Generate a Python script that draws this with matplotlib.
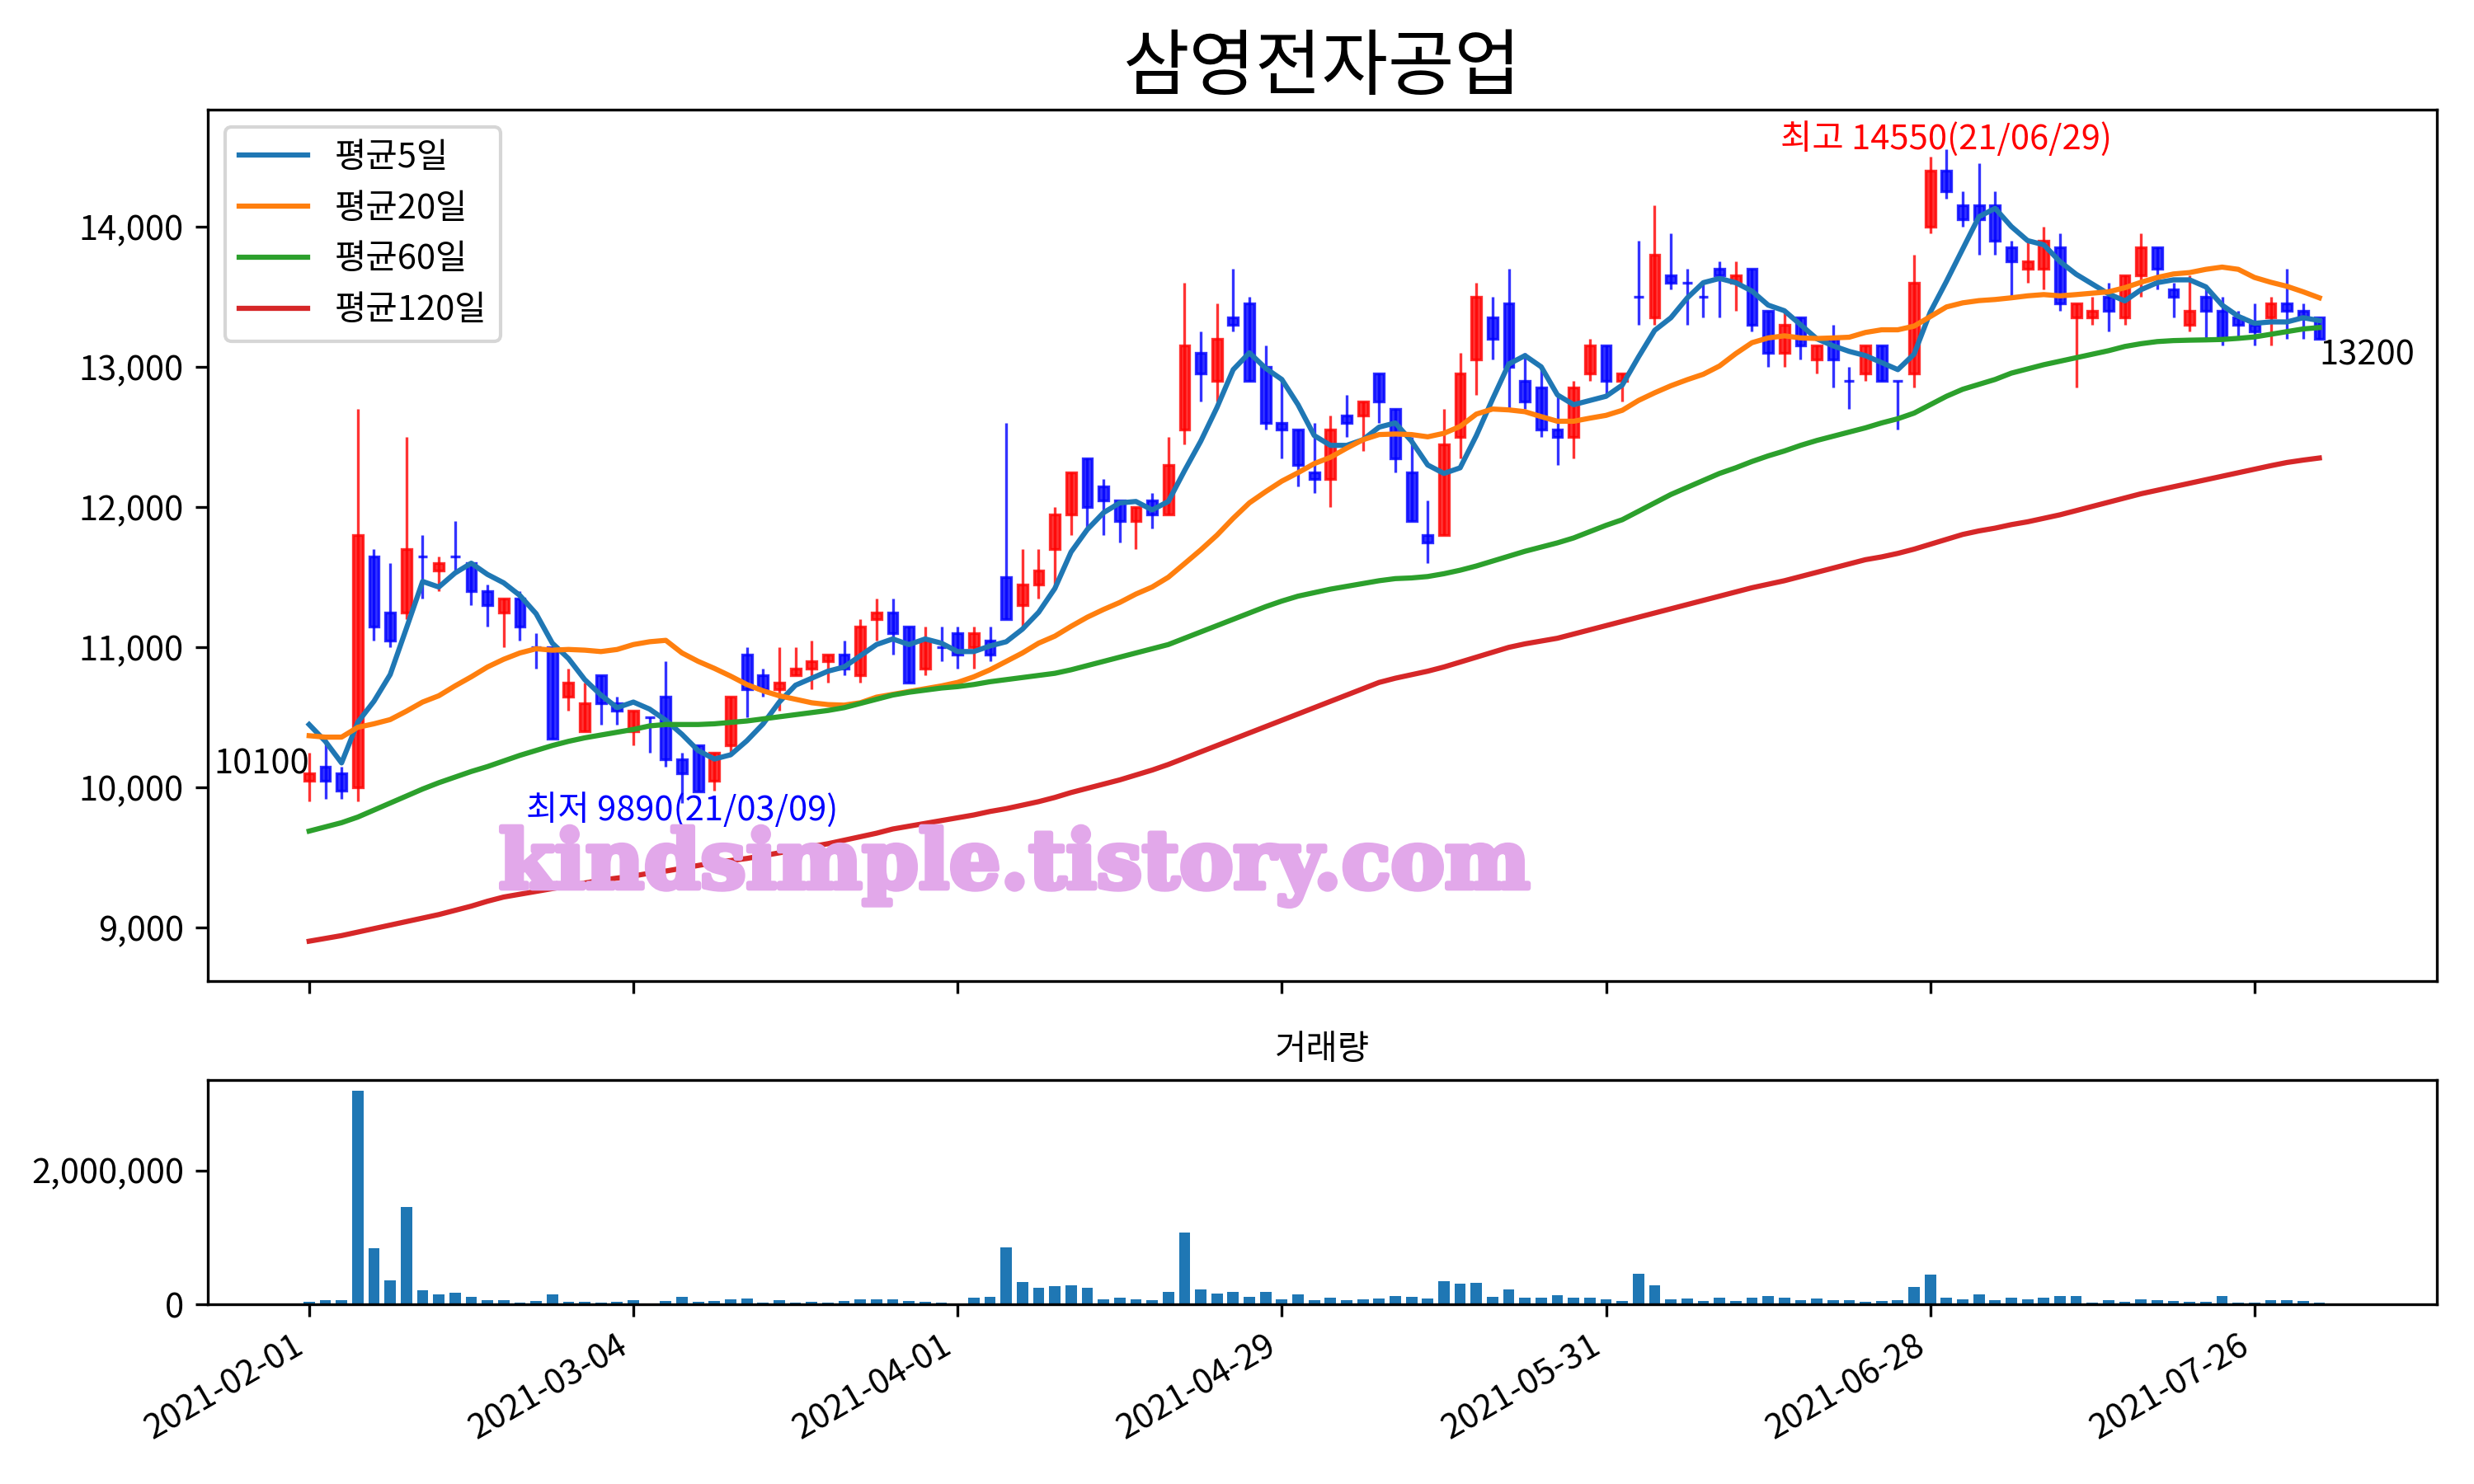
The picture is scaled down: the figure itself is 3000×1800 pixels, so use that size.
import numpy as np
import pandas as pd
import matplotlib
matplotlib.use('Agg')
import matplotlib.pyplot as plt
import matplotlib.patheffects as pe
from matplotlib.ticker import FuncFormatter

plt.rcParams['font.family'] = ['Noto Sans CJK KR', 'DejaVu Sans']

title = '삼영전자공업'
tick_dates = ['2021-02-01', '2021-03-04', '2021-04-01', '2021-04-29',
              '2021-05-31', '2021-06-28', '2021-07-26']
high_date = '21/06/29'
low_date = '21/03/09'

# last closes before the window (only used for the 5-day average)
pre_close = [10650, 10750, 10350, 10400]

open_ = [10050, 10150, 10100, 10000, 11650, 11250, 11250, 11650, 11550, 11650,
         11600, 11400, 11250, 11350, 11000, 11000, 10650, 10400, 10800, 10600,
         10400, 10500, 10650, 10200, 10300, 10050, 10300, 10950, 10800, 10700,
         10800, 10850, 10900, 10950, 10800, 11200, 11250, 11150, 10850, 11000,
         11100, 11000, 11050, 11500, 11300, 11450, 11700, 11950, 12350, 12150,
         12050, 11900, 12050, 11950, 12550, 13100, 12900, 13350, 13450, 13000,
         12600, 12550, 12250, 12200, 12650, 12650, 12950, 12700, 12250, 11800,
         11800, 12500, 13050, 13350, 13450, 12900, 12850, 12550, 12500, 12950,
         13150, 12900, 13500, 13350, 13650, 13600, 13500, 13700, 13600, 13700,
         13400, 13100, 13350, 13050, 13200, 12900, 12950, 13150, 12900, 12950,
         14000, 14400, 14150, 14150, 14150, 13850, 13700, 13700, 13850, 13350,
         13350, 13500, 13350, 13650, 13850, 13550, 13300, 13500, 13400, 13350,
         13300, 13350, 13450, 13400, 13350]
high = [10250, 10350, 10150, 12700, 11700, 11600, 12500, 11800, 11650, 11900,
        11600, 11450, 11350, 11400, 11100, 11000, 10850, 10750, 10800, 10650,
        10550, 10500, 10900, 10250, 10300, 10250, 10650, 11000, 10850, 11000,
        11000, 11050, 10950, 11050, 11200, 11350, 11350, 11150, 11150, 11150,
        11150, 11150, 11150, 12600, 11700, 11700, 12000, 12250, 12350, 12200,
        12050, 12000, 12100, 12500, 13600, 13250, 13450, 13700, 13500, 13150,
        12900, 12550, 12600, 12650, 12800, 12750, 12950, 12700, 12500, 12050,
        12700, 13100, 13600, 13500, 13700, 13100, 13000, 12800, 12900, 13200,
        13150, 12950, 13900, 14150, 13950, 13700, 13600, 13750, 13750, 13700,
        13400, 13400, 13350, 13150, 13300, 13000, 13150, 13150, 12900, 13800,
        14500, 14550, 14250, 14450, 14250, 13900, 13900, 14000, 13950, 13450,
        13500, 13600, 13650, 13950, 13850, 13600, 13650, 13550, 13500, 13400,
        13450, 13500, 13700, 13450, 13350]
low = [9900, 9920, 9920, 9900, 11050, 11000, 11200, 11350, 11400, 11550,
       11300, 11150, 11000, 11050, 10850, 10350, 10550, 10400, 10450, 10450,
       10300, 10250, 10150, 9890, 9970, 9980, 10250, 10500, 10650, 10550,
       10800, 10700, 10750, 10800, 10750, 11050, 10950, 10750, 10800, 10900,
       10850, 10850, 10900, 11200, 11150, 11350, 11450, 11800, 11850, 11800,
       11750, 11700, 11850, 11950, 12450, 12750, 12750, 13250, 12900, 12550,
       12350, 12150, 12100, 12000, 12500, 12400, 12600, 12250, 11900, 11600,
       11800, 12350, 12800, 13050, 12700, 12700, 12500, 12300, 12350, 12900,
       12800, 12750, 13300, 13300, 13550, 13300, 13350, 13350, 13400, 13250,
       13000, 13000, 13050, 12950, 12850, 12700, 12900, 12900, 12550, 12850,
       13950, 14200, 14000, 13800, 13800, 13500, 13600, 13550, 13400, 12850,
       13300, 13250, 13300, 13500, 13550, 13350, 13250, 13200, 13150, 13200,
       13150, 13150, 13200, 13200, 13200]
close = [10100, 10050, 9980, 11800, 11150, 11050, 11700, 11650, 11600, 11650,
         11400, 11300, 11350, 11150, 11000, 10350, 10750, 10600, 10600, 10550,
         10550, 10500, 10200, 10100, 9970, 10250, 10650, 10700, 10700, 10750,
         10850, 10900, 10950, 10850, 11150, 11250, 11100, 10750, 11050, 11000,
         10950, 11100, 10950, 11200, 11450, 11550, 11950, 12250, 12000, 12050,
         11900, 12000, 11950, 12300, 13150, 12950, 13200, 13300, 12900, 12600,
         12550, 12300, 12200, 12550, 12600, 12750, 12750, 12350, 11900, 11750,
         12450, 12950, 13500, 13200, 13000, 12750, 12550, 12500, 12850, 13150,
         12900, 12950, 13500, 13800, 13600, 13600, 13500, 13650, 13650, 13300,
         13100, 13300, 13150, 13150, 13050, 12900, 13150, 12900, 12900, 13600,
         14400, 14250, 14050, 14050, 13900, 13750, 13750, 13900, 13450, 13450,
         13400, 13400, 13650, 13850, 13700, 13500, 13400, 13400, 13200, 13300,
         13250, 13450, 13400, 13350, 13200]

ma20 = [10370, 10360, 10360, 10430, 10455, 10485, 10545, 10610, 10655, 10725,
        10790, 10860, 10915, 10960, 10990, 10980, 10985, 10980, 10970, 10985,
        11020, 11040, 11050, 10960, 10900, 10850, 10795, 10735, 10690, 10655,
        10630, 10605, 10592, 10588, 10605, 10645, 10665, 10685, 10705, 10725,
        10750, 10790, 10840, 10900, 10960, 11030, 11080, 11150, 11215, 11270,
        11320, 11380, 11430, 11500, 11597, 11695, 11800, 11920, 12030, 12110,
        12185, 12245, 12310, 12355, 12420, 12480, 12517, 12521, 12517, 12501,
        12526, 12575, 12663, 12699, 12693, 12680, 12645, 12612, 12612, 12634,
        12654, 12690, 12760, 12815, 12865, 12908, 12947, 13006, 13094, 13172,
        13206, 13221, 13206, 13202, 13206, 13211, 13245, 13264, 13264, 13290,
        13358, 13427, 13456, 13472, 13480, 13492, 13506, 13515, 13506, 13515,
        13525, 13535, 13564, 13603, 13637, 13662, 13672, 13695, 13711, 13695,
        13637, 13603, 13574, 13535, 13492]
ma60 = [9690, 9720, 9750, 9790, 9840, 9890, 9940, 9990, 10035, 10075,
        10115, 10150, 10190, 10230, 10265, 10300, 10330, 10355, 10375, 10395,
        10415, 10440, 10450, 10450, 10450, 10455, 10465, 10475, 10490, 10505,
        10520, 10535, 10550, 10570, 10600, 10630, 10660, 10680, 10695, 10710,
        10720, 10735, 10755, 10770, 10785, 10800, 10815, 10840, 10870, 10900,
        10930, 10960, 10990, 11020, 11065, 11110, 11155, 11200, 11245, 11290,
        11330, 11365, 11390, 11415, 11435, 11455, 11475, 11490, 11495, 11505,
        11525, 11550, 11580, 11615, 11650, 11685, 11715, 11745, 11780, 11825,
        11870, 11910, 11970, 12030, 12090, 12140, 12190, 12240, 12280, 12325,
        12365, 12400, 12440, 12475, 12505, 12535, 12565, 12600, 12630, 12670,
        12730, 12790, 12840, 12875, 12910, 12955, 12985, 13015, 13040, 13065,
        13090, 13115, 13145, 13165, 13180, 13187, 13190, 13192, 13195, 13203,
        13213, 13232, 13251, 13270, 13280]
ma120 = [8905, 8925, 8945, 8970, 8995, 9020, 9045, 9070, 9095, 9125,
         9155, 9190, 9220, 9240, 9260, 9280, 9300, 9320, 9340, 9355,
         9370, 9390, 9405, 9425, 9445, 9465, 9480, 9495, 9515, 9535,
         9555, 9580, 9600, 9625, 9650, 9675, 9705, 9725, 9745, 9765,
         9785, 9805, 9830, 9850, 9875, 9900, 9930, 9965, 9995, 10025,
         10055, 10090, 10125, 10165, 10210, 10255, 10300, 10345, 10390, 10435,
         10480, 10525, 10570, 10615, 10660, 10705, 10750, 10780, 10805, 10830,
         10860, 10895, 10930, 10965, 11000, 11025, 11045, 11065, 11095, 11125,
         11155, 11185, 11215, 11245, 11275, 11305, 11335, 11365, 11395, 11425,
         11450, 11475, 11505, 11535, 11565, 11595, 11625, 11645, 11670, 11700,
         11735, 11770, 11805, 11830, 11850, 11875, 11895, 11920, 11945, 11975,
         12005, 12035, 12065, 12095, 12120, 12145, 12170, 12195, 12220, 12245,
         12270, 12295, 12318, 12335, 12350]

volume = [45000, 69000, 69000, 3186000, 836000, 361000, 1457000, 215000, 154000, 179000,
          118000, 69000, 69000, 32000, 57000, 154000, 45000, 45000, 32000, 45000,
          69000, 20000, 57000, 118000, 45000, 57000, 81000, 93000, 32000, 69000,
          32000, 45000, 32000, 57000, 81000, 81000, 81000, 57000, 45000, 32000,
          20000, 106000, 118000, 848000, 337000, 252000, 276000, 288000, 252000, 81000,
          106000, 81000, 69000, 191000, 1067000, 227000, 166000, 191000, 118000, 191000,
          81000, 154000, 69000, 106000, 69000, 81000, 93000, 130000, 118000, 93000,
          349000, 312000, 325000, 118000, 227000, 106000, 106000, 142000, 106000, 106000,
          81000, 57000, 459000, 288000, 81000, 93000, 57000, 106000, 57000, 106000,
          130000, 106000, 69000, 93000, 69000, 69000, 45000, 57000, 69000, 264000,
          446000, 106000, 81000, 154000, 69000, 106000, 81000, 106000, 130000, 130000,
          32000, 69000, 45000, 81000, 69000, 57000, 45000, 45000, 130000, 32000,
          32000, 69000, 69000, 57000, 32000]

o = np.array(open_)
h = np.array(high)
l = np.array(low)
c = np.array(close)
x = np.arange(len(c))

s = pd.Series(pre_close + close, dtype=float)
ma5 = s.rolling(5).mean().values[len(pre_close):]

fig, (ax1, ax2) = plt.subplots(2, 1, sharex=True, figsize=(10, 6), dpi=300,
                               gridspec_kw={'height_ratios': [3.885, 1]})

# candles
col = np.where(c > o, 'r', 'b')
ax1.vlines(x, l, h, colors=col, linewidth=0.8, alpha=0.8)
ax1.bar(x, c - o, bottom=o, width=0.6, color=col, edgecolor=col,
        linewidth=0.8, alpha=0.8)

ax1.plot(x, ma5, color='tab:blue', label='평균5일')
ax1.plot(x, ma20, color='tab:orange', label='평균20일')
ax1.plot(x, ma60, color='tab:green', label='평균60일')
ax1.plot(x, ma120, color='tab:red', label='평균120일')

imax = int(np.argmax(h))
imin = int(np.argmin(l))
ax1.text(imax, h[imax], f'최고 {h[imax]}({high_date})', color='red',
         ha='center', va='baseline')
ax1.annotate(f'최저 {l[imin]}({low_date})', (imin, l[imin]), xytext=(0, -2),
             textcoords='offset points', color='blue', ha='center', va='center')
ax1.text(0, c[0], str(c[0]), ha='right', va='baseline')
ax1.text(x[-1], c[-1], str(c[-1]), ha='left', va='top')

ax1.set_title(title, fontsize=21)
ax1.legend(loc='upper left')
fmt = FuncFormatter(lambda v, p: f'{v:,.0f}')
ax1.yaxis.set_major_formatter(fmt)

ax2.bar(x, volume, width=0.7, color='tab:blue')
ax2.set_title('거래량', fontsize=10)
ax2.yaxis.set_major_formatter(fmt)
ax2.set_xticks(x[::20])
ax2.set_xticklabels(tick_dates)
ax2.set_xlim(-6.25, len(c) + 6.25)

fig.autofmt_xdate()
fig.subplots_adjust(left=0.084, right=0.985, top=0.926, bottom=0.121, hspace=0.1816)

wm_color = '#e2a8ea'
fig.text(0.41, 0.416, 'kindsimple.tistory.com', fontsize=23.5, family='DejaVu Serif',
         weight='bold', color=wm_color, ha='center', va='center', zorder=10,
         path_effects=[pe.withStroke(linewidth=1.5, foreground=wm_color)])

fig.savefig('out.png', dpi=300)
